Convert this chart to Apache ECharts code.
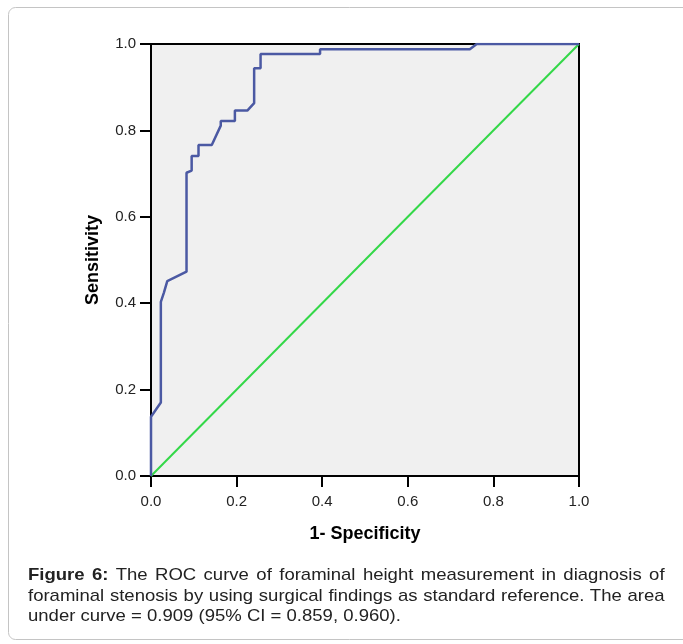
<!DOCTYPE html>
<html>
<head>
<meta charset="utf-8">
<script src="https://cdn.jsdelivr.net/npm/echarts@6/dist/echarts.min.js"></script>
<style>
  html, body { margin: 0; padding: 0; background: #fff; }
  #wrap { position: relative; width: 683px; height: 644px; overflow: hidden; }
  #chart { position: absolute; left: 0; top: 0; width: 683px; height: 644px; }
  #caption {
    position: absolute; left: 28px; top: 565px; width: 584px;
    transform: scaleX(1.09); transform-origin: 0 0;
    font-family: "Liberation Sans", Arial, sans-serif; font-size: 17px;
    line-height: 20.5px; color: #222;
  }
  #caption .j { text-align: justify; text-align-last: justify; white-space: nowrap; }
</style>
</head>
<body>
<div id="wrap">
  <div id="chart"></div>
  <div id="caption">
    <div class="j"><b>Figure 6:</b> The ROC curve of foraminal height measurement in diagnosis of</div>
    <div class="j">foraminal stenosis by using surgical findings as standard reference. The area</div>
    <div>under curve = 0.909 (95% CI = 0.859, 0.960).</div>
  </div>
</div>
<script>
// ROC curve (1-specificity, sensitivity)
var fprValues = [0, 0, 0.023, 0.023, 0.030, 0.038, 0.083, 0.083, 0.095, 0.095, 0.111, 0.111, 0.142, 0.163, 0.163, 0.196, 0.196, 0.225, 0.241, 0.241, 0.256, 0.256, 0.395, 0.395, 0.745, 0.761, 1];
var tprValues = [0, 0.137, 0.170, 0.403, 0.424, 0.451, 0.473, 0.702, 0.707, 0.741, 0.741, 0.766, 0.766, 0.811, 0.822, 0.822, 0.846, 0.846, 0.863, 0.944, 0.944, 0.977, 0.977, 0.988, 0.988, 1, 1];
// reference line
var refX = [0, 1];
var refY = [0, 1];

var rocData = fprValues.map(function(x, i) { return [x, tprValues[i]]; });
var refData = refX.map(function(x, i) { return [x, refY[i]]; });

var chart = echarts.init(document.getElementById('chart'), null, {renderer: 'canvas'});

var axisCommon = {
	type: 'value',
	min: 0,
	max: 1,
	interval: 0.2,
	axisLine: {show: true, lineStyle: {color: '#000', width: 2}},
	axisTick: {show: true, length: 11, lineStyle: {color: '#000', width: 2}},
	splitLine: {show: false},
	axisLabel: {
		color: '#222',
		fontFamily: 'Liberation Sans',
		fontSize: 15,
		formatter: function(v) { return v.toFixed(1); }
	},
	nameLocation: 'middle',
	nameTextStyle: {color: '#000', fontFamily: 'Liberation Sans', fontSize: 18, fontWeight: 'bold'}
};

var option = {
	animation: false,
	graphic: [{
		type: 'rect',
		shape: {x: 8.5, y: 7.5, width: 700, height: 632, r: 7},
		style: {fill: 'none', stroke: '#c4c4c4', lineWidth: 1},
		z: -10
	}],
	grid: {
		left: 151,
		top: 44,
		right: 104,
		bottom: 168,
		show: true,
		backgroundColor: '#f0f0f0',
		borderColor: '#000',
		borderWidth: 2
	},
	xAxis: Object.assign({}, axisCommon, {
		name: '1- Specificity',
		nameGap: 49,
		axisLabel: Object.assign({}, axisCommon.axisLabel, {margin: 18})
	}),
	yAxis: Object.assign({}, axisCommon, {
		name: 'Sensitivity',
		nameGap: 49,
		axisLabel: Object.assign({}, axisCommon.axisLabel, {margin: 15})
	}),
	series: [
		{
			name: 'ROC',
			type: 'line',
			data: rocData,
			symbol: 'none',
			lineStyle: {color: '#4B59A3', width: 2.5},
			z: 3
		},
		{
			name: 'Reference',
			type: 'line',
			data: refData,
			symbol: 'none',
			lineStyle: {color: '#33D848', width: 2},
			z: 2
		}
	]
};

chart.setOption(option);
</script>
</body>
</html>
